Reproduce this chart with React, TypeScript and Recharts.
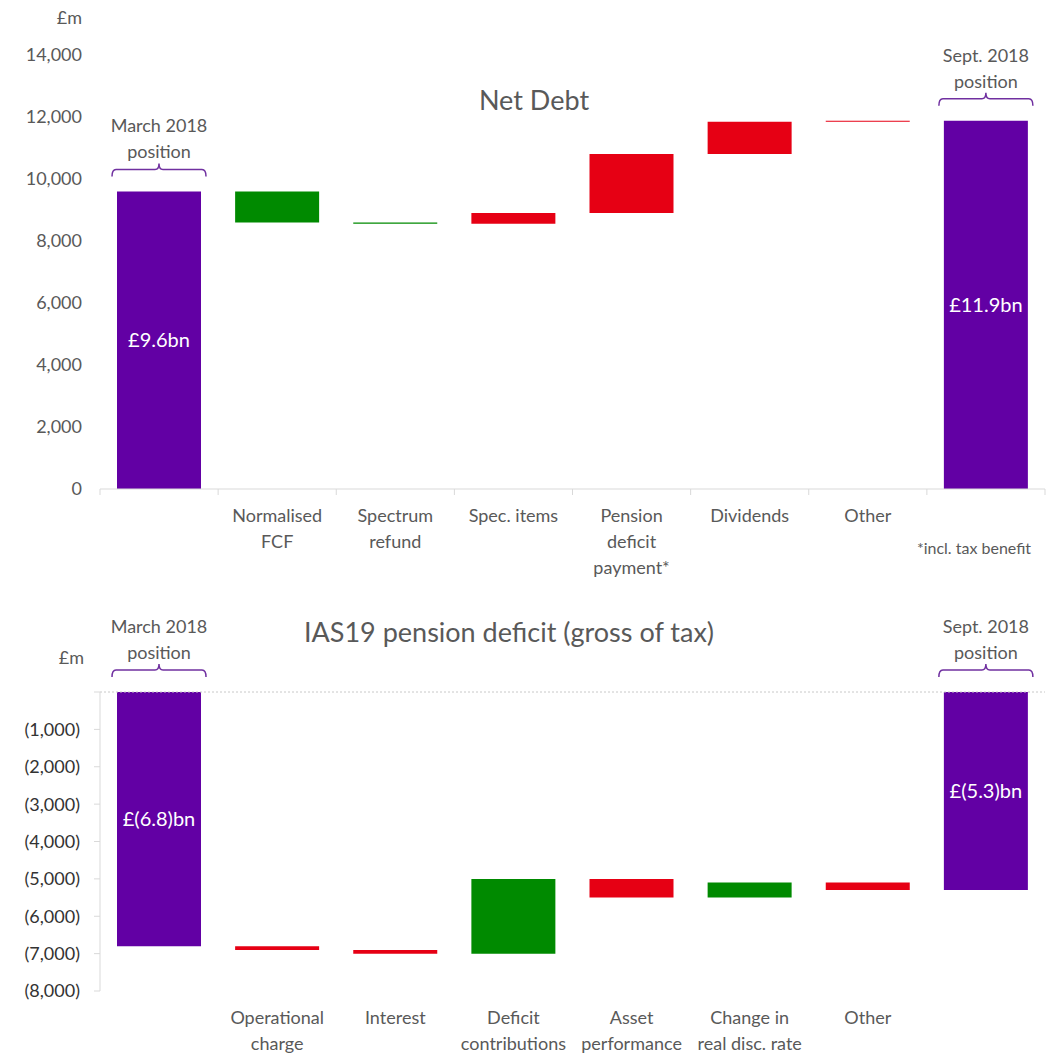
import { Bar, Cell, ComposedChart, LabelList, ReferenceLine, XAxis, YAxis } from "recharts";

const FONT = "Lato, 'Open Sans', sans-serif";
const GREY = "#595959";
const PURPLE = "#6200A4";
const GREEN = "#008A00";
const RED = "#E60014";

// Net debt bridge (£m)
const debtSteps = ["March 2018", "Normalised FCF", "Spectrum refund", "Spec. items", "Pension deficit payment*", "Dividends", "Other", "Sept. 2018"];
const debtTickLines = [[], ["Normalised", "FCF"], ["Spectrum", "refund"], ["Spec. items"], ["Pension", "deficit", "payment*"], ["Dividends"], ["Other"], []];
const debtFrom = [0, 9600, 8600, 8560, 8900, 10810, 11850, 0];
const debtTo = [9600, 8600, 8560, 8900, 10810, 11850, 11880, 11880];
const debtColors = [PURPLE, GREEN, GREEN, RED, RED, RED, RED, PURPLE];
const debtValueLabels = ["£9.6bn", "", "", "", "", "", "", "£11.9bn"];
const debtAnnotations = ["March 2018|position", "", "", "", "", "", "", "Sept. 2018|position"];
const debtTicks = [0, 2000, 4000, 6000, 8000, 10000, 12000, 14000];

// IAS19 pension deficit bridge (£m)
const pensionSteps = ["March 2018", "Operational charge", "Interest", "Deficit contributions", "Asset performance", "Change in real disc. rate", "Other", "Sept. 2018"];
const pensionTickLines = [[], ["Operational", "charge"], ["Interest"], ["Deficit", "contributions"], ["Asset", "performance"], ["Change in", "real disc. rate"], ["Other"], []];
const pensionFrom = [0, -6800, -6900, -7000, -5000, -5500, -5100, 0];
const pensionTo = [-6800, -6900, -7000, -5000, -5500, -5100, -5300, -5300];
const pensionColors = [PURPLE, RED, RED, GREEN, RED, GREEN, RED, PURPLE];
const pensionValueLabels = ["£(6.8)bn", "", "", "", "", "", "", "£(5.3)bn"];
const pensionAnnotations = ["March 2018|position", "", "", "", "", "", "", "Sept. 2018|position"];
const pensionTicks = [-8000, -7000, -6000, -5000, -4000, -3000, -2000, -1000, 0];

const build = (steps: string[], from: number[], to: number[], values: string[], notes: string[]) =>
  steps.map((name, i) => ({
    name,
    range: [Math.min(from[i], to[i]), Math.max(from[i], to[i])],
    valueLabel: values[i],
    annot: notes[i],
  }));

const debtData = build(debtSteps, debtFrom, debtTo, debtValueLabels, debtAnnotations);
const pensionData = build(pensionSteps, pensionFrom, pensionTo, pensionValueLabels, pensionAnnotations);

const makeTick = (lines: string[][], boundaries: boolean) => (props: any) => {
  const { x, y, payload, index } = props;
  const half = payload?.offset || 59;
  const rows = lines[index] || [];
  return (
    <g>
      {boundaries && <line x1={x - half} x2={x - half} y1={y} y2={y + 6} stroke="#d9d9d9" />}
      {boundaries && index === lines.length - 1 && <line x1={x + half} x2={x + half} y1={y} y2={y + 6} stroke="#d9d9d9" />}
      {rows.map((t, i) => (
        <text key={i} x={x} y={y + 33 + i * 26} textAnchor="middle" fill={GREY} fontSize={18} fontFamily={FONT}>
          {t}
        </text>
      ))}
    </g>
  );
};

const renderAnnotation = (props: any) => {
  const vb = props.viewBox || props;
  const { x, y, width, height } = vb;
  const value = props.value;
  if (!value || typeof value !== "string") return null;
  const top = Math.min(y, y + height);
  const cx = x + width / 2;
  const l = x - 5;
  const r = x + width + 5;
  const by = top - 22;
  const lines = value.split("|");
  return (
    <g>
      <path
        d={`M${l},${by + 7} Q${l},${by} ${l + 4},${by} L${cx - 4},${by} Q${cx},${by} ${cx},${by - 6} Q${cx},${by} ${cx + 4},${by} L${r - 4},${by} Q${r},${by} ${r},${by + 7}`}
        fill="none"
        stroke="#7030A0"
        strokeWidth={1.5}
      />
      {lines.map((t: string, i: number) => (
        <text key={i} x={cx} y={top - 59 + i * 26} textAnchor="middle" fill={GREY} fontSize={18} fontFamily={FONT}>
          {t}
        </text>
      ))}
    </g>
  );
};

const fmtDebt = (v: number) => v.toLocaleString("en-GB");
const fmtPension = (v: number) => (v === 0 ? "" : `(${Math.abs(v).toLocaleString("en-GB")})`);

const textStyle = (left: number, top: number, width: number, size: number, align: "left" | "center" | "right") => ({
  position: "absolute" as const,
  left,
  top,
  width,
  fontSize: size,
  lineHeight: `${size}px`,
  color: GREY,
  fontFamily: FONT,
  textAlign: align,
  whiteSpace: "nowrap" as const,
});

export default function App() {
  return (
    <div style={{ position: "absolute", left: 0, top: 0, width: 1056, height: 1055, background: "#fff", fontFamily: FONT, overflow: "hidden" }}>
      <div style={{ position: "absolute", left: 0, top: 0 }}>
        <ComposedChart width={1056} height={600} data={debtData} margin={{ top: 55, right: 11, bottom: 0, left: 0 }}>
          <YAxis
            width={100}
            domain={[0, 14000]}
            ticks={debtTicks}
            axisLine={false}
            tickLine={false}
            tickSize={0}
            tickMargin={18}
            tickFormatter={fmtDebt}
            tick={{ fill: GREY, fontSize: 18, fontFamily: FONT }}
          />
          <XAxis
            dataKey="name"
            height={111}
            interval={0}
            axisLine={{ stroke: "#d9d9d9" }}
            tickLine={false}
            tickSize={0}
            tickMargin={0}
            tick={makeTick(debtTickLines, true)}
          />
          <Bar dataKey="range" barSize={84} isAnimationActive={false}>
            {debtData.map((d, i) => (
              <Cell key={d.name} fill={debtColors[i]} />
            ))}
            <LabelList dataKey="valueLabel" position="center" fill="#ffffff" fontSize={20} fontFamily={FONT} />
            <LabelList dataKey="annot" content={renderAnnotation} />
          </Bar>
        </ComposedChart>
      </div>

      <div style={{ position: "absolute", left: 0, top: 600 }}>
        <ComposedChart width={1056} height={455} data={pensionData} margin={{ top: 92, right: 11, bottom: 0, left: 0 }}>
          <YAxis
            width={100}
            domain={[-8000, 0]}
            ticks={pensionTicks}
            axisLine={{ stroke: "#d9d9d9" }}
            tickLine={{ stroke: "#d9d9d9" }}
            tickSize={6}
            tickMargin={14}
            tickFormatter={fmtPension}
            tick={{ fill: "#333333", fontSize: 18, fontFamily: FONT }}
          />
          <XAxis
            dataKey="name"
            height={64}
            interval={0}
            axisLine={false}
            tickLine={false}
            tickSize={0}
            tickMargin={0}
            tick={makeTick(pensionTickLines, false)}
          />
          <ReferenceLine y={0} stroke="#c8c8c8" strokeDasharray="2 2" />
          <Bar dataKey="range" barSize={84} isAnimationActive={false}>
            {pensionData.map((d, i) => (
              <Cell key={d.name} fill={pensionColors[i]} />
            ))}
            <LabelList dataKey="valueLabel" position="center" fill="#ffffff" fontSize={20} fontFamily={FONT} />
            <LabelList dataKey="annot" content={renderAnnotation} />
          </Bar>
        </ComposedChart>
      </div>

      <div style={textStyle(20, 8, 62, 18, "right")}>£m</div>
      <div style={textStyle(334, 86, 400, 27, "center")}>Net Debt</div>
      <div style={textStyle(894, 540, 160, 16, "center")}>*incl. tax benefit</div>

      <div style={textStyle(20, 648, 64, 18, "right")}>£m</div>
      <div style={textStyle(259, 618, 500, 27, "center")}>IAS19 pension deficit (gross of tax)</div>
    </div>
  );
}
